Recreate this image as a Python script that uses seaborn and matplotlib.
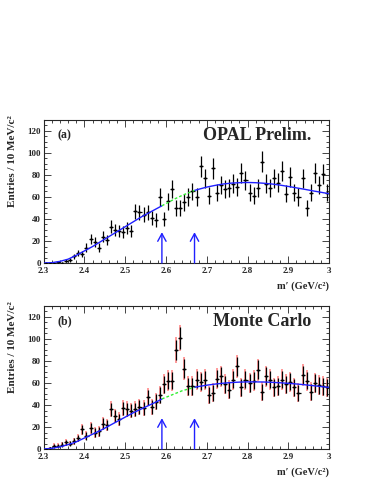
import numpy as np
import pandas as pd
import seaborn as sns
import matplotlib
matplotlib.use("Agg")
import matplotlib.pyplot as plt
from matplotlib.ticker import MultipleLocator, FuncFormatter

# ---------------- data ----------------
bin_centers = np.round(np.arange(2.305, 3.0, 0.01), 3)

counts_a = [0, 0, 0, 1, 0, 2, 3, 6, 9, 8,
            14, 22, 19, 14, 24, 21, 33, 30, 29, 28,
            32, 29, 47, 46, 44, 46, 41, 39, 60, 40,
            56, 67, 50, 50, 55, 60, 65, 60, 88, 77,
            61, 86, 64, 71, 67, 68, 72, 69, 82, 75,
            64, 61, 68, 92, 72, 68, 77, 73, 84, 63,
            78, 64, 60, 77, 50, 64, 82, 71, 81, 64]

counts_b = [0, 1, 3, 3, 4, 6, 5, 7, 10, 18,
            12, 19, 15, 16, 23, 22, 36, 30, 27, 37,
            36, 35, 36, 38, 37, 47, 38, 43, 49, 59,
            62, 62, 90, 101, 73, 57, 57, 63, 61, 63,
            49, 51, 64, 66, 59, 54, 63, 75, 56, 63,
            60, 62, 72, 52, 66, 63, 56, 57, 63, 59,
            61, 56, 51, 67, 62, 52, 60, 58, 57, 56]

fit_x = [2.30, 2.32, 2.34, 2.36, 2.38, 2.40, 2.42, 2.44, 2.46, 2.48,
         2.50, 2.52, 2.54, 2.56, 2.58, 2.59, 2.60, 2.62, 2.64, 2.66, 2.67, 2.68,
         2.70, 2.72, 2.74, 2.76, 2.78, 2.80, 2.82, 2.84, 2.86, 2.88,
         2.90, 2.92, 2.94, 2.96, 2.98, 3.00]
fit_a = [0, 0.3, 1.5, 3.5, 7, 11, 15, 19.5, 24, 28.5,
         33, 37.5, 42, 46, 50, 52, 54, 58, 61.5, 64.5, 66, 67,
         69, 70.5, 71.8, 72.6, 73, 73.2, 73, 72.5, 71.8, 70.8,
         69.6, 68.3, 67, 65.6, 64.3, 63]
fit_b = [0, 0.6, 2, 4, 6.5, 10, 13.5, 17, 21, 25,
         29, 33, 36.5, 40, 43.5, 45.5, 47, 50, 53, 55, 56, 56.8,
         58, 59, 59.8, 60.4, 60.8, 61, 61, 60.9, 60.6, 60.2,
         59.7, 59.1, 58.4, 57.6, 56.8, 56]

window = [2.59, 2.67]
arrow_top = 28

panel_tags = ["(a)", "(b)"]
panel_titles = ["OPAL Prelim.", "Monte Carlo"]
y_title = "Entries / 10 MeV/c²"
x_title = "m′ (GeV/c²)"

# ---------------- style ----------------
sns.set_style("ticks")
plt.rcParams["font.family"] = ["Liberation Serif", "DejaVu Serif"]
plt.rcParams["font.weight"] = "bold"
plt.rcParams["axes.labelweight"] = "bold"
plt.rcParams["axes.linewidth"] = 0.8

fig = plt.figure(figsize=(3.74, 4.84), dpi=100)
left, width, height = 0.1168, 0.763, 0.2955
ax_a = fig.add_axes([left, 0.4566, width, height])
ax_b = fig.add_axes([left, 0.0723, width, height])

blue = "#2020ff"
green = "#33ee33"


def fmt_x(v, p):
    return "3" if abs(v - 3.0) < 1e-6 else f"{v:.1f}"


for i, (ax, counts, fit) in enumerate([(ax_a, counts_a, fit_a), (ax_b, counts_b, fit_b)]):
    counts = np.asarray(counts, float)
    err = np.sqrt(counts)
    df = pd.DataFrame({"m": fit_x, "n": fit})
    lo = df[df.m <= window[0] + 1e-9]
    mid = df[(df.m >= window[0] - 1e-9) & (df.m <= window[1] + 1e-9)]
    hi = df[df.m >= window[1] - 1e-9]

    if i == 1:
        ax.errorbar(bin_centers, counts, yerr=err * 1.2, fmt="none",
                    ecolor="#ff7070", alpha=0.7, elinewidth=1.4, capsize=0, zorder=2)
    ax.errorbar(bin_centers, counts, yerr=err, xerr=0.005, fmt="none",
                ecolor="black", elinewidth=0.9, capsize=0, zorder=3)
    sns.scatterplot(x=bin_centers, y=counts, ax=ax, color="black", s=3,
                    linewidth=0, zorder=4)

    sns.lineplot(data=lo, x="m", y="n", ax=ax, color=blue, lw=1.0, zorder=5)
    sns.lineplot(data=hi, x="m", y="n", ax=ax, color=blue, lw=1.0, zorder=5)
    sns.lineplot(data=mid, x="m", y="n", ax=ax, color=green, lw=1.0,
                 linestyle=(0, (2, 1.5)), zorder=5)

    for w in window:
        ax.annotate("", xy=(w, arrow_top), xytext=(w, 0),
                    arrowprops=dict(arrowstyle="->,head_length=0.55,head_width=0.3",
                                    color=blue, lw=1.0, shrinkA=0, shrinkB=0,
                                    mutation_scale=10), zorder=6)

    ax.set_xlim(2.3, 3.0)
    ax.set_ylim(0, 130)
    ax.xaxis.set_major_locator(MultipleLocator(0.1))
    ax.xaxis.set_minor_locator(MultipleLocator(0.02))
    ax.yaxis.set_major_locator(MultipleLocator(20))
    ax.yaxis.set_minor_locator(MultipleLocator(5))
    ax.xaxis.set_major_formatter(FuncFormatter(fmt_x))
    ax.tick_params(which="both", direction="in", top=True, right=True,
                   labelsize=6.5, width=0.6)
    ax.tick_params(axis="x", pad=3)
    ax.tick_params(axis="y", pad=2)
    ax.tick_params(which="major", length=5)
    ax.tick_params(which="minor", length=2.5)
    for lab in ax.get_xticklabels() + ax.get_yticklabels():
        lab.set_fontweight("bold")

    ax.set_ylabel(y_title, fontsize=8, loc="top", fontweight="bold")
    ax.yaxis.set_label_coords(-0.095, 1.035)
    ax.set_xlabel(x_title, fontsize=7.5, loc="right", fontweight="bold")
    ax.xaxis.set_label_coords(1.0, -0.13)

    ax.text(0.05, 0.895, panel_tags[i], transform=ax.transAxes, fontsize=8.5,
            fontweight="bold", va="center", ha="left")
    ax.text(0.937, 0.89, panel_titles[i], transform=ax.transAxes, fontsize=13,
            fontweight="bold", va="center", ha="right")

fig.savefig("out.png", dpi=100)
